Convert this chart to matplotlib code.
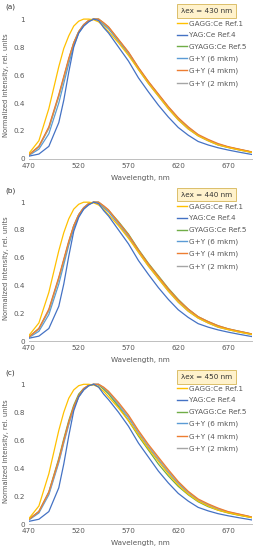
import matplotlib
matplotlib.use("Agg")
import matplotlib.pyplot as plt
from matplotlib.lines import Line2D

# wavelength grid, nm
wl = [470, 480, 490, 500, 505, 510, 515, 520, 525, 530, 535, 540, 545, 550,
      560, 570, 580, 590, 600, 610, 620, 630, 640, 650, 660, 670, 680, 690, 694]

labels = ["GAGG:Ce Ref.1", "YAG:Ce Ref.4", "GYAGG:Ce Ref.5",
          "G+Y (6 mkm)", "G+Y (4 mkm)", "G+Y (2 mkm)"]
colors = ["#FFC000", "#4472C4", "#70AD47", "#5B9BD5", "#ED7D31", "#A5A5A5"]
excitation = ["430", "440", "450"]
panel_tags = ["(a)", "(b)", "(c)"]

# panel (a), lambda_ex = 430 nm
gagg_a = [0.04, 0.13, 0.36, 0.66, 0.79, 0.88, 0.95, 0.985, 1.0, 1.0, 0.995, 0.98, 0.95, 0.91,
          0.83, 0.74, 0.64, 0.54, 0.45, 0.36, 0.28, 0.215, 0.165, 0.13, 0.10, 0.082, 0.066, 0.052, 0.047]
yag_a = [0.02, 0.035, 0.09, 0.26, 0.42, 0.62, 0.80, 0.90, 0.95, 0.98, 1.0, 0.99, 0.94, 0.90,
         0.80, 0.70, 0.58, 0.48, 0.385, 0.30, 0.225, 0.17, 0.125, 0.10, 0.08, 0.064, 0.05, 0.037, 0.032]
gyagg_a = [0.03, 0.09, 0.22, 0.45, 0.58, 0.71, 0.83, 0.91, 0.96, 0.99, 1.0, 1.0, 0.97, 0.94,
           0.85, 0.76, 0.65, 0.55, 0.46, 0.37, 0.29, 0.225, 0.17, 0.135, 0.105, 0.085, 0.07, 0.055, 0.048]
gy6_a = [0.025, 0.07, 0.18, 0.40, 0.54, 0.68, 0.81, 0.90, 0.95, 0.985, 1.0, 0.995, 0.96, 0.93,
         0.84, 0.75, 0.64, 0.54, 0.45, 0.36, 0.28, 0.215, 0.165, 0.13, 0.10, 0.082, 0.066, 0.052, 0.046]
gy4_a = [0.03, 0.09, 0.23, 0.46, 0.59, 0.72, 0.83, 0.91, 0.96, 0.99, 1.0, 1.0, 0.975, 0.945,
         0.855, 0.765, 0.655, 0.555, 0.465, 0.375, 0.295, 0.23, 0.175, 0.14, 0.11, 0.088, 0.072, 0.057, 0.05]
gy2_a = [0.03, 0.085, 0.22, 0.45, 0.58, 0.71, 0.83, 0.91, 0.96, 0.99, 1.0, 1.0, 0.97, 0.94,
         0.85, 0.76, 0.65, 0.55, 0.46, 0.37, 0.29, 0.225, 0.17, 0.135, 0.105, 0.085, 0.07, 0.055, 0.048]

# panel (b), lambda_ex = 440 nm
gagg_b = [0.04, 0.13, 0.35, 0.65, 0.78, 0.88, 0.95, 0.985, 1.0, 1.0, 0.995, 0.98, 0.95, 0.91,
          0.83, 0.74, 0.64, 0.54, 0.45, 0.36, 0.28, 0.215, 0.165, 0.13, 0.10, 0.082, 0.066, 0.052, 0.047]
yag_b = [0.02, 0.035, 0.09, 0.25, 0.41, 0.61, 0.79, 0.89, 0.95, 0.98, 1.0, 0.99, 0.94, 0.90,
         0.80, 0.70, 0.58, 0.48, 0.385, 0.30, 0.225, 0.17, 0.125, 0.10, 0.08, 0.064, 0.05, 0.037, 0.032]
gyagg_b = [0.03, 0.09, 0.22, 0.45, 0.58, 0.71, 0.83, 0.91, 0.96, 0.99, 1.0, 1.0, 0.97, 0.94,
           0.86, 0.77, 0.66, 0.56, 0.47, 0.38, 0.30, 0.23, 0.175, 0.14, 0.11, 0.088, 0.072, 0.057, 0.05]
gy6_b = [0.025, 0.07, 0.19, 0.41, 0.55, 0.69, 0.81, 0.90, 0.95, 0.985, 1.0, 0.995, 0.96, 0.93,
         0.84, 0.75, 0.64, 0.54, 0.45, 0.36, 0.28, 0.215, 0.165, 0.13, 0.10, 0.082, 0.066, 0.052, 0.046]
gy4_b = [0.03, 0.09, 0.23, 0.46, 0.59, 0.72, 0.83, 0.91, 0.96, 0.99, 1.0, 1.0, 0.975, 0.945,
         0.855, 0.765, 0.655, 0.555, 0.465, 0.375, 0.295, 0.23, 0.175, 0.14, 0.11, 0.088, 0.072, 0.057, 0.05]
gy2_b = [0.03, 0.085, 0.22, 0.45, 0.58, 0.71, 0.83, 0.91, 0.96, 0.99, 1.0, 1.0, 0.97, 0.94,
         0.85, 0.76, 0.65, 0.55, 0.46, 0.37, 0.29, 0.225, 0.17, 0.135, 0.105, 0.085, 0.07, 0.055, 0.048]

# panel (c), lambda_ex = 450 nm
gagg_c = [0.04, 0.13, 0.36, 0.67, 0.80, 0.90, 0.96, 0.99, 1.0, 1.0, 0.995, 0.98, 0.95, 0.91,
          0.83, 0.74, 0.64, 0.54, 0.45, 0.36, 0.28, 0.215, 0.165, 0.13, 0.10, 0.082, 0.066, 0.052, 0.047]
yag_c = [0.02, 0.035, 0.09, 0.26, 0.43, 0.63, 0.81, 0.91, 0.96, 0.99, 1.0, 0.98, 0.93, 0.89,
         0.80, 0.70, 0.58, 0.48, 0.38, 0.295, 0.22, 0.165, 0.12, 0.095, 0.075, 0.06, 0.047, 0.035, 0.03]
gyagg_c = [0.035, 0.09, 0.23, 0.47, 0.61, 0.74, 0.85, 0.93, 0.97, 0.99, 1.0, 0.995, 0.965, 0.93,
           0.84, 0.74, 0.63, 0.53, 0.43, 0.345, 0.27, 0.21, 0.16, 0.125, 0.10, 0.08, 0.065, 0.052, 0.046]
gy6_c = [0.03, 0.08, 0.21, 0.44, 0.58, 0.71, 0.83, 0.91, 0.96, 0.99, 1.0, 1.0, 0.97, 0.94,
         0.85, 0.76, 0.65, 0.55, 0.46, 0.37, 0.29, 0.225, 0.17, 0.135, 0.105, 0.085, 0.07, 0.055, 0.048]
gy4_c = [0.035, 0.09, 0.23, 0.46, 0.60, 0.73, 0.84, 0.92, 0.97, 0.995, 1.0, 1.0, 0.98, 0.95,
         0.87, 0.78, 0.67, 0.57, 0.48, 0.39, 0.305, 0.235, 0.18, 0.145, 0.115, 0.09, 0.074, 0.058, 0.05]
gy2_c = [0.035, 0.09, 0.22, 0.45, 0.59, 0.72, 0.83, 0.91, 0.96, 0.99, 1.0, 1.0, 0.975, 0.945,
         0.86, 0.77, 0.66, 0.56, 0.47, 0.38, 0.30, 0.23, 0.175, 0.14, 0.11, 0.088, 0.072, 0.057, 0.05]

panels = [[gagg_a, yag_a, gyagg_a, gy6_a, gy4_a, gy2_a],
          [gagg_b, yag_b, gyagg_b, gy6_b, gy4_b, gy2_b],
          [gagg_c, yag_c, gyagg_c, gy6_c, gy4_c, gy2_c]]

# axes positions in figure fraction (left, bottom, width, height)
boxes = [[0.113, 0.711, 0.871, 0.267],
         [0.113, 0.380, 0.871, 0.265],
         [0.113, 0.047, 0.871, 0.267]]

txt = "#595959"
fs = 5.2

fig = plt.figure(figsize=(2.56, 5.5), dpi=100)
fig.patch.set_facecolor("white")

for i in range(3):
    ax = fig.add_axes(boxes[i])
    # draw order so the yellow and blue stay on top like the original
    order = [3, 2, 5, 4, 0, 1]
    for k in order:
        ax.plot(wl, panels[i][k], color=colors[k], lw=0.9)
    ax.set_xlim(470, 694)
    ax.set_ylim(0, 1.05)
    ax.set_xticks([470, 520, 570, 620, 670])
    ax.set_yticks([0, 0.2, 0.4, 0.6, 0.8, 1])
    ax.set_yticklabels(["0", "0.2", "0.4", "0.6", "0.8", "1"])
    ax.tick_params(length=0, labelsize=fs, colors=txt, pad=3)
    for s in ["top", "right", "left"]:
        ax.spines[s].set_visible(False)
    ax.spines["bottom"].set_color("#BFBFBF")
    ax.spines["bottom"].set_linewidth(0.7)
    ax.set_xlabel("Wavelength, nm", fontsize=fs, color=txt, labelpad=4)
    ax.set_ylabel("Normalized intensity, rel. units", fontsize=fs - 0.3, color=txt, labelpad=3)

    fig.text(0.022, boxes[i][1] + boxes[i][3] + 0.003, panel_tags[i], fontsize=fs,
             color="#333333", va="bottom")

    ax.text(0.795, 1.005, "\u03bbex = " + excitation[i] + " nm", transform=ax.transAxes,
            fontsize=fs, color="#333333", ha="center", va="center",
            bbox=dict(boxstyle="square,pad=0.55", fc="#FFF2CC", ec="#D6B656", lw=0.6))

    handles = [Line2D([0], [0], color=colors[k], lw=1.0) for k in range(6)]
    leg = ax.legend(handles, labels, loc="upper left", bbox_to_anchor=(0.642, 0.977),
                    fontsize=fs, frameon=False, handlelength=1.3, handletextpad=0.3,
                    labelspacing=0.78, borderpad=0.2)
    for t in leg.get_texts():
        t.set_color(txt)

fig.savefig("out.png", dpi=100)
